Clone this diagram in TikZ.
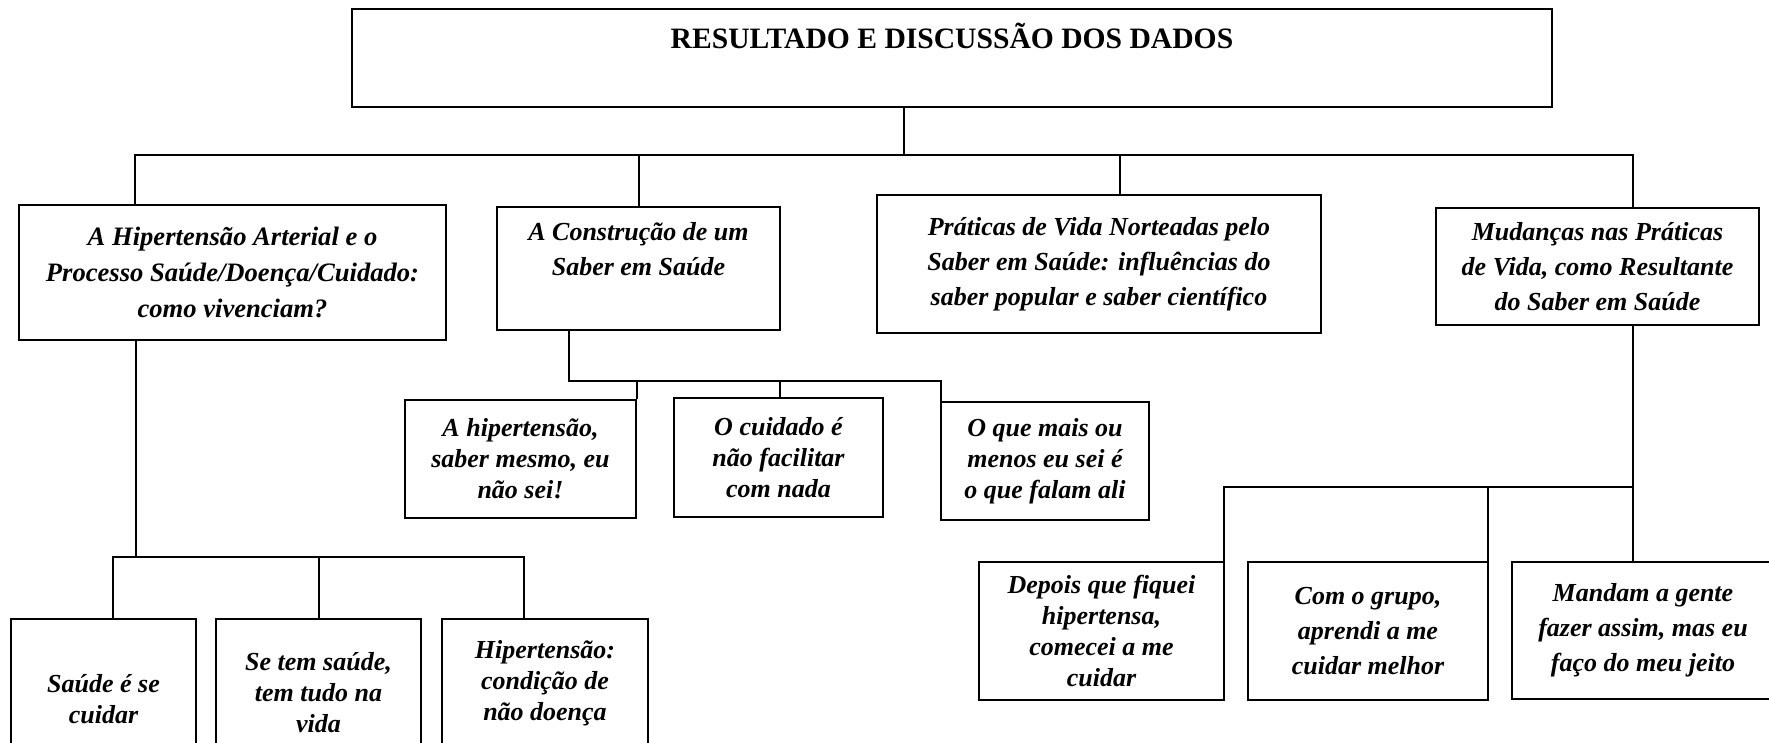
\documentclass[tikz,border=0pt]{standalone}
\usepackage{fontspec}
\setmainfont{Liberation Serif}
\usepackage{tikz}
\tikzset{caixa/.style={draw,align=center,inner sep=0pt,font=\fontsize{13}{15.5}\selectfont\bfseries\itshape},
largo/.style={caixa,font=\fontsize{13}{17.6}\selectfont\bfseries\itshape},
tam/.style 2 args={minimum width=#1*0.5pt,minimum height=#2*0.5pt},
titulo/.style={caixa,font=\fontsize{14.8}{17}\selectfont\bfseries}}

\begin{document}
\begin{tikzpicture}[x=0.5pt,y=-0.5pt,line width=1.1pt]
\useasboundingbox (0,0) rectangle (1769,743);
\fill[white] (0,0) rectangle (1769,743);
\clip (0,0) rectangle (1769,743);

\node[titulo,tam={1200}{98}] (t) at (952,58) {RESULTADO E DISCUSSÃO DOS DADOS\\ \strut};
\node[largo,tam={427}{135},font=\fontsize{13.3}{17.8}\selectfont\bfseries\itshape] (c1) at (232.5,272.5) {A Hipertensão Arterial e o\\Processo Saúde/Doença/Cuidado:\\como vivenciam?};
\node[largo,tam={283}{123}] (c2) at (638.5,268.5) {A Construção de um\\Saber em Saúde\\[-3.5pt] \strut};
\node[largo,tam={444}{138}] (c3) at (1099,264) {Práticas de Vida Norteadas pelo\\Saber em Saúde: influências do\\saber popular e saber científico};
\node[largo,tam={323}{117}] (c4) at (1597.5,266.5) {Mudanças nas Práticas\\de Vida, como Resultante\\do Saber em Saúde};

% under c1
\node[caixa,tam={185}{160}] (c11) at (103.5,699) {Saúde é se\\cuidar};
\node[caixa,tam={205}{148}] (c12) at (318.5,693) {Se tem saúde,\\tem tudo na\\vida};
\node[caixa,tam={206}{128}] (c13) at (545,683) {Hipertensão:\\condição de\\não doença};
% under c2
\node[caixa,tam={231}{118}] (c21) at (520.5,459) {A hipertensão,\\saber mesmo, eu\\não sei!};
\node[caixa,tam={209}{119}] (c22) at (778.5,457.5) {O cuidado é\\não facilitar\\com nada};
\node[caixa,tam={208}{118}] (c23) at (1045,461) {O que mais ou\\menos eu sei é\\o que falam ali};
% under c4
\node[caixa,tam={245}{138}] (c41) at (1101.5,631) {Depois que fiquei\\hipertensa,\\comecei a me\\cuidar};
\node[largo,tam={240}{138}] (c42) at (1368,631) {Com o grupo,\\aprendi a me\\cuidar melhor};
\node[largo,tam={262}{137}] (c43) at (1643,630.5) {Mandam a gente\\fazer assim, mas eu\\faço do meu jeito};

\coordinate (r0) at (904,155);
\coordinate (r1) at (135,155);
\coordinate (r2) at (639,155);
\coordinate (r3) at (1120,155);
\coordinate (r4) at (1633,155);
\draw (t.south -| r0) -- (r0);
\draw (c1.north -| r1) -- (r1) -- (r4) -- (c4.north -| r4);
\draw (c2.north -| r2) -- (r2);
\draw (c3.north -| r3) -- (r3);

\coordinate (s1) at (136,557);
\coordinate (s11) at (113,557);
\coordinate (s12) at (319,557);
\coordinate (s13) at (524,557);
\draw (c1.south -| s1) -- (s1);
\draw (c11.north -| s11) -- (s11) -- (s13) -- (c13.north -| s13);
\draw (c12.north -| s12) -- (s12);

\coordinate (u0) at (569,381);
\coordinate (u1) at (637,381);
\coordinate (u2) at (780,381);
\coordinate (u3) at (941,381);
\draw (c2.south -| u0) -- (u0) -- (u3) -- (c23.north -| u3);
\draw (c21.north -| u1) -- (u1);
\draw (c22.north -| u2) -- (u2);

\coordinate (v1) at (1224,487);
\coordinate (v2) at (1488,487);
\coordinate (v3) at (1633,487);
\draw (c4.south -| v3) -- (c43.north -| v3);
\draw (v3) -- (v1) -- (c41.north -| v1);
\draw (c42.north -| v2) -- (v2);
\end{tikzpicture}
\end{document}
